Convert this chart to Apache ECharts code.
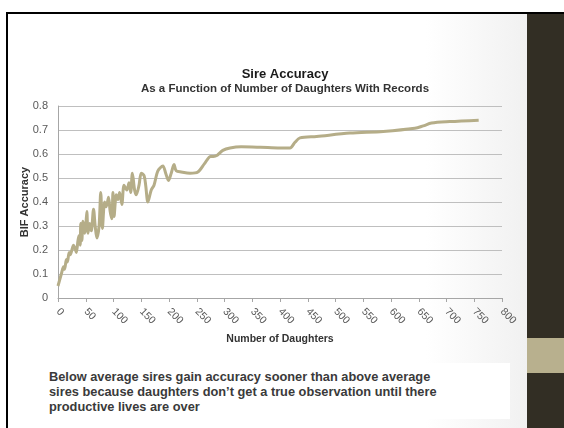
<!DOCTYPE html>
<html>
<head>
<meta charset="utf-8">
<script src="https://cdn.jsdelivr.net/npm/echarts@6/dist/echarts.min.js"></script>
<style>
  html, body { margin: 0; padding: 0; }
  body { width: 564px; height: 428px; position: relative; overflow: hidden; background: #ffffff; font-family: "Liberation Sans", Arial, sans-serif; }
  #slide { position: absolute; left: 6px; top: 12px; width: 558px; height: 416px;
           background: linear-gradient(to right, #ffffff 0px, #ffffff 420px, #f1f1f1 521px); }
  #topRule { position: absolute; left: 6px; top: 12px; width: 558px; height: 2px; background: #000; }
  #leftRule { position: absolute; left: 6px; top: 12px; width: 2px; height: 416px; background: #000; }
  #band { position: absolute; left: 527px; top: 14px; width: 37px; height: 414px; background: #322e24; }
  #bandAccent { position: absolute; left: 527px; top: 338px; width: 37px; height: 35px; background: #b8b08e; }
  #note { position: absolute; left: 30px; top: 363px; width: 480px; height: 56px; background: #ffffff; }
  #noteText { position: absolute; left: 49px; top: 369px; width: 420px; font-size: 12.8px; font-weight: bold; line-height: 15px; color: #3a3a3a; }
  #chart { position: absolute; left: 0; top: 0; width: 564px; height: 428px; }
</style>
</head>
<body>
<div id="slide"></div>
<div id="band"></div>
<div id="bandAccent"></div>
<div id="topRule"></div>
<div id="leftRule"></div>
<div id="note"></div>
<div id="noteText">Below average sires gain accuracy sooner than above average<br>sires because daughters don’t get a true observation until there<br>productive lives are over</div>
<div id="chart"></div>
<script>
// Number of daughters with records for each sire group
const daughters = [0, 6, 10, 12, 15, 17, 20, 22, 25, 28, 30, 33, 36, 38, 40, 41, 43, 45, 48, 50, 52, 54, 57, 60, 64, 67, 70, 74, 77, 80, 84, 87, 91, 94, 97, 99, 101, 105, 108, 111, 115, 119, 124, 128, 131, 134, 138, 141, 146, 150, 155, 158, 162, 168, 173, 180, 189, 194, 199, 204, 209, 213, 222, 238, 252, 264, 275, 280, 287, 297, 310, 330, 365, 400, 418, 427, 436, 466, 526, 586, 643, 658, 673, 706, 758];
// BIF accuracy of the sire evaluation
const accuracy = [0.05, 0.10, 0.13, 0.12, 0.16, 0.15, 0.19, 0.18, 0.20, 0.22, 0.21, 0.19, 0.24, 0.26, 0.22, 0.31, 0.24, 0.32, 0.27, 0.30, 0.36, 0.27, 0.31, 0.28, 0.37, 0.30, 0.25, 0.30, 0.44, 0.29, 0.40, 0.38, 0.42, 0.36, 0.33, 0.44, 0.34, 0.43, 0.41, 0.44, 0.39, 0.47, 0.45, 0.48, 0.44, 0.52, 0.45, 0.43, 0.47, 0.52, 0.51, 0.47, 0.40, 0.45, 0.47, 0.53, 0.55, 0.52, 0.49, 0.52, 0.556, 0.53, 0.525, 0.52, 0.525, 0.56, 0.59, 0.59, 0.595, 0.615, 0.625, 0.63, 0.628, 0.625, 0.625, 0.649, 0.667, 0.673, 0.687, 0.694, 0.707, 0.717, 0.729, 0.735, 0.741];
const xTicks = [0, 50, 100, 150, 200, 250, 300, 350, 400, 450, 500, 550, 600, 650, 700, 750, 800];
const yTicks = [0, 0.1, 0.2, 0.3, 0.4, 0.5, 0.6, 0.7, 0.8];

const chart = echarts.init(document.getElementById('chart'), null, { renderer: 'canvas' });
chart.setOption({
  backgroundColor: 'transparent',
  animation: false,
  title: {
    text: 'Sire Accuracy',
    subtext: 'As a Function of Number of Daughters With Records',
    left: 280, textAlign: 'center', top: 63, itemGap: 2,
    textStyle: { fontFamily: 'Liberation Sans', fontSize: 13, fontWeight: 'bold', color: '#1a1a1a' },
    subtextStyle: { fontFamily: 'Liberation Sans', fontSize: 11.5, fontWeight: 'bold', color: '#333333' }
  },
  grid: { left: 58, right: 62, top: 106, bottom: 130 },
  xAxis: {
    type: 'value', min: xTicks[0], max: xTicks[xTicks.length - 1], interval: 50,
    name: 'Number of Daughters', nameLocation: 'middle', nameGap: 36,
    nameTextStyle: { fontFamily: 'Liberation Sans', fontSize: 10.5, fontWeight: 'bold', color: '#333333' },
    axisLine: { lineStyle: { color: '#a6a6a6', width: 1 } },
    axisTick: { show: true, inside: false, length: 4, lineStyle: { color: '#a6a6a6' } },
    axisLabel: { rotate: -45, margin: 12, fontFamily: 'Liberation Sans', fontSize: 10.5, color: '#595959' },
    splitLine: { show: false }
  },
  yAxis: {
    type: 'value', min: yTicks[0], max: yTicks[yTicks.length - 1], interval: 0.1,
    name: 'BIF Accuracy', nameLocation: 'middle', nameGap: 28, nameRotate: 90,
    nameMoveOverlap: false,
    nameTextStyle: { fontFamily: 'Liberation Sans', fontSize: 11, fontWeight: 'bold', color: '#333333' },
    axisLine: { show: true, lineStyle: { color: '#a6a6a6', width: 1 } },
    axisTick: { show: false },
    axisLabel: { margin: 10, fontFamily: 'Liberation Sans', fontSize: 11, color: '#595959',
      formatter: v => (Math.round(v * 10) / 10).toString() },
    splitLine: { show: true, lineStyle: { color: '#bfbfbf', width: 1 } }
  },
  series: [{
    type: 'line',
    data: daughters.map((d, i) => [d, accuracy[i]]),
    smooth: 0.3,
    showSymbol: false,
    lineStyle: { color: '#b5ad88', width: 3 },
    itemStyle: { color: '#b5ad88' }
  }]
});
</script>
</body>
</html>
